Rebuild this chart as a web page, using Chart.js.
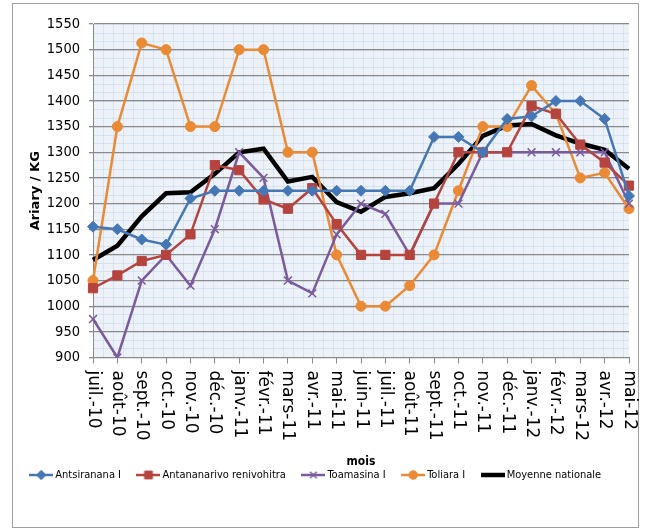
<!DOCTYPE html>
<html>
<head>
<meta charset="utf-8">
<script src="https://cdn.jsdelivr.net/npm/chart.js@4.4.1/dist/chart.umd.min.js"></script>
<style>
  html, body { margin: 0; padding: 0; background: #fff; }
  #box { width: 645px; height: 529px; }
</style>
</head>
<body>
<div id="box"><canvas id="grafico"></canvas></div>
<script>
// mois (axe x)
var mois = ['juil.-10','août-10','sept.-10','oct.-10','nov.-10','déc.-10','janv.-11','févr.-11','mars-11','avr.-11','mai-11','juin-11',
            'juil.-11','août-11','sept.-11','oct.-11','nov.-11','déc.-11','janv.-12','févr.-12','mars-12','avr.-12','mai-12'];

// prix en Ariary / KG
var antsiranana  = [1155,1150,1130,1120,1210,1225,1225,1225,1225,1225,1225,1225,1225,1225,1330,1330,1300,1365,1370,1400,1400,1365,1215];
var antananarivo = [1035,1060,1088,1100,1140,1275,1265,1208,1190,1230,1160,1100,1100,1100,1200,1300,1300,1300,1390,1375,1315,1280,1235];
var toamasina    = [975,900,1050,1100,1040,1150,1300,1250,1050,1025,1140,1200,1180,1100,1200,1200,1300,1300,1300,1300,1300,1300,1200];
var toliara      = [1050,1350,1513,1500,1350,1350,1500,1500,1300,1300,1100,1000,1000,1040,1100,1225,1350,1350,1430,1375,1250,1260,1190];
var moyenne      = [1090,1118,1175,1220,1222,1258,1300,1307,1243,1252,1203,1184,1213,1220,1230,1277,1332,1352,1355,1333,1317,1305,1268];

var yMin = 900;
var yMax = 1550;
var yPas = 50;

var cond = "'DejaVu Sans Condensed', 'DejaVu Sans', sans-serif";

function serie(label, data, cor, estilo, raio, largura) {
    return {
        label: label,
        data: data,
        borderColor: cor,
        backgroundColor: cor,
        borderWidth: largura,
        pointStyle: estilo,
        pointRadius: raio,
        pointHoverRadius: raio,
        pointBackgroundColor: cor,
        pointBorderColor: cor,
        pointBorderWidth: estilo === 'crossRot' ? 1.5 : 1,
        tension: 0,
        fill: false
    };
}

var datasets = [
    serie('Antsiranana I', antsiranana, '#4677b5', 'rectRot', 5.5, 2.5),
    serie('Antananarivo renivohitra', antananarivo, '#b5443f', 'rect', 6.5, 2.5),
    serie('Toamasina I', toamasina, '#7a5c9c', 'crossRot', 5.5, 2.5),
    serie('Toliara I', toliara, '#ea8a35', 'circle', 5, 2.5),
    serie('Moyenne nationale', moyenne, '#000000', false, 0, 4.5)
];

// petite icone ligne + marqueur pour la légende
function icone(ds) {
    var c = document.createElement('canvas');
    c.width = 24; c.height = 14;
    var g = c.getContext('2d');
    g.strokeStyle = ds.borderColor;
    g.lineWidth = ds.borderWidth;
    g.beginPath(); g.moveTo(0, 7); g.lineTo(24, 7); g.stroke();
    if (ds.pointRadius > 0) {
        g.fillStyle = ds.pointBackgroundColor;
        g.strokeStyle = ds.pointBorderColor;
        g.lineWidth = ds.pointBorderWidth;
        Chart.helpers.drawPoint(g, { pointStyle: ds.pointStyle, radius: ds.pointRadius * 0.85, rotation: 0, borderWidth: ds.pointBorderWidth }, 12, 7);
    }
    return c;
}

// cadre + fond quadrillé de la zone de tracé
var fond = {
    id: 'fond',
    beforeDraw(chart) {
        var ctx = chart.ctx, a = chart.chartArea;
        ctx.save();
        ctx.fillStyle = '#fff';
        ctx.fillRect(0, 0, chart.width, chart.height);
        ctx.strokeStyle = '#a0a0a0';
        ctx.lineWidth = 1;
        ctx.strokeRect(12.5, 3.5, 626, 524);
        ctx.fillStyle = '#edf2f9';
        ctx.fillRect(a.left, a.top, a.right - a.left, a.bottom - a.top);
        ctx.strokeStyle = 'rgba(196,211,232,0.5)';
        ctx.beginPath();
        for (var x = a.left + 10; x < a.right; x += 10) { ctx.moveTo(Math.round(x) + 0.5, a.top); ctx.lineTo(Math.round(x) + 0.5, a.bottom); }
        for (var y = a.top + 8.5; y < a.bottom; y += 8.53) { ctx.moveTo(a.left, Math.round(y) + 0.5); ctx.lineTo(a.right, Math.round(y) + 0.5); }
        ctx.stroke();
        ctx.restore();
    }
};

// étiquettes des mois tournées de 90° (lecture de haut en bas)
var etiquettesX = {
    id: 'etiquettesX',
    afterDraw(chart) {
        var ctx = chart.ctx, sx = chart.scales.x;
        ctx.save();
        ctx.font = "17px 'DejaVu Sans', sans-serif";
        ctx.fillStyle = '#000';
        ctx.textAlign = 'left';
        ctx.textBaseline = 'middle';
        for (var i = 0; i < mois.length; i++) {
            ctx.save();
            ctx.translate(sx.getPixelForValue(i), sx.top + 13);
            ctx.rotate(Math.PI / 2);
            ctx.fillText(mois[i], 0, 0);
            ctx.restore();
        }
        ctx.restore();
    }
};

var grafico = new Chart(document.getElementById('grafico'), {
    type: 'line',
    data: { labels: mois, datasets: datasets },
    plugins: [fond, etiquettesX],
    options: {
        responsive: true,
        maintainAspectRatio: false,
        animation: false,
        layout: { padding: { left: 5, right: 16, top: 24, bottom: 38.5 } },
        plugins: {
            tooltip: { enabled: false },
            legend: {
                position: 'bottom',
                align: 'center',
                labels: {
                    usePointStyle: true,
                    pointStyleWidth: 17,
                    color: '#000',
                    padding: 19,
                    font: { family: cond, size: 11 },
                    generateLabels: function (chart) {
                        return chart.data.datasets.map(function (ds, i) {
                            return { text: ds.label, datasetIndex: i, pointStyle: icone(ds), fillStyle: ds.borderColor, strokeStyle: ds.borderColor, lineWidth: 0, hidden: false, fontColor: '#000' };
                        });
                    }
                }
            }
        },
        scales: {
            x: {
                offset: false,
                ticks: { display: false },
                grid: { display: true, drawOnChartArea: false, drawTicks: true, tickLength: 6, color: '#8a8a8a' },
                border: { display: true, color: '#8a8a8a', width: 1 },
                title: {
                    display: true,
                    text: 'mois',
                    color: '#000',
                    font: { family: cond, size: 12, weight: 'bold' },
                    padding: { top: 0, bottom: -19 }
                },
                afterFit: function (s) { s.height = 93; }
            },
            y: {
                min: yMin,
                max: yMax,
                ticks: {
                    stepSize: yPas,
                    color: '#000',
                    padding: 9,
                    font: { family: cond, size: 14.5 },
                    callback: function (v) { return String(v); }
                },
                grid: { color: '#8a8a8a', lineWidth: 1.3, tickLength: 4 },
                border: { display: true, color: '#8a8a8a', width: 1 },
                title: {
                    display: true,
                    text: 'Ariary / KG',
                    color: '#000',
                    font: { family: "'DejaVu Sans', sans-serif", size: 13, weight: 'bold' },
                    padding: { top: 23, bottom: 0 }
                },
                afterFit: function (s) { s.width = 88; }
            }
        }
    }
});
</script>
</body>
</html>
